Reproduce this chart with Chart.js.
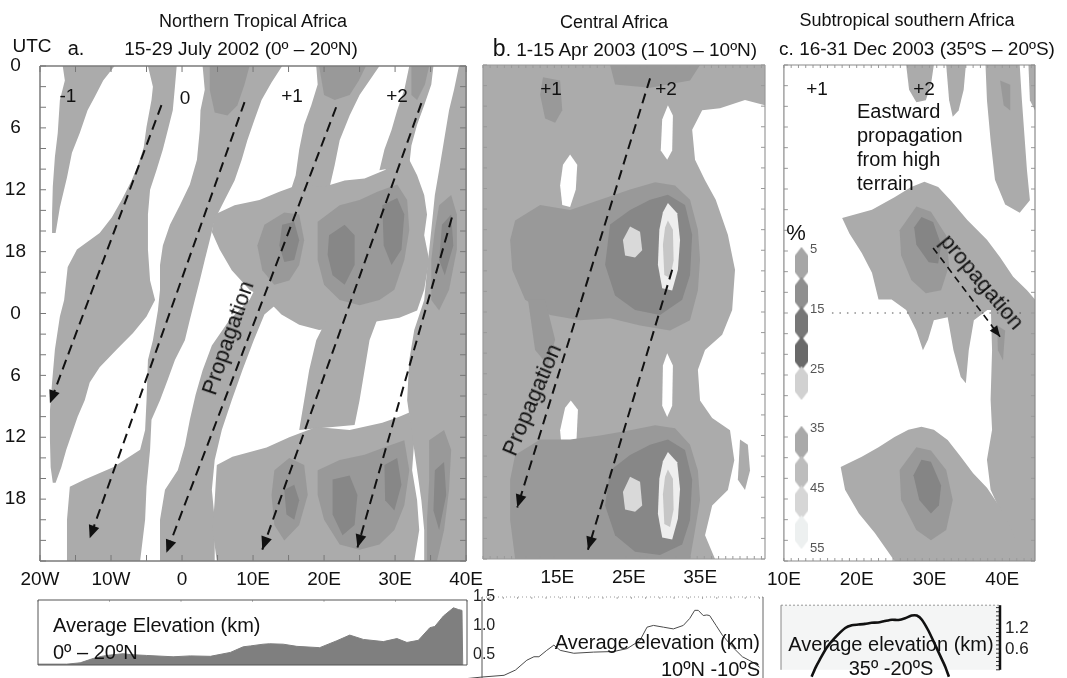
<!DOCTYPE html>
<html>
<head>
<meta charset="utf-8">
<title>Diurnal propagation of convection over Africa</title>
<script src="https://cdn.jsdelivr.net/npm/chart.js@4.4.1/dist/chart.umd.min.js"></script>
<style>
  html, body { margin: 0; padding: 0; background: #fff; }
  body { position: relative; width: 1067px; height: 678px; overflow: hidden;
         font-family: "Liberation Sans", Arial, sans-serif; color: #111; }
  canvas { position: absolute; }
  .t { position: absolute; white-space: nowrap; line-height: 1; }
  .c { transform: translate(-50%, -50%); }
  .l { transform: translate(0, -50%); }
  .r { transform: translate(-100%, -50%); }
</style>
</head>
<body>
<canvas id="chartA" width="490" height="600" style="left:0;top:0"></canvas>
<canvas id="chartB" width="310" height="600" style="left:470px;top:0"></canvas>
<canvas id="chartC" width="307" height="600" style="left:760px;top:0"></canvas>
<canvas id="legendC" width="50" height="360" style="left:781px;top:220px"></canvas>
<canvas id="elevA" width="445" height="90" style="left:30px;top:590px"></canvas>
<canvas id="elevB" width="330" height="100" style="left:450px;top:585px"></canvas>
<canvas id="elevC" width="297" height="95" style="left:770px;top:590px"></canvas>

<!-- titles -->
<div class="t c" style="left:253px;top:21px;font-size:18px">Northern Tropical Africa</div>
<div class="t c" style="left:32px;top:45px;font-size:19px">UTC</div>
<div class="t c" style="left:76px;top:48px;font-size:20px">a.</div>
<div class="t c" style="left:241px;top:48px;font-size:19px">15-29 July 2002 (0º – 20ºN)</div>
<div class="t c" style="left:614px;top:22px;font-size:18px">Central Africa</div>
<div class="t c" style="left:625px;top:48px;font-size:19px"><span style="font-size:23px">b</span>. 1-15 Apr 2003 (10ºS – 10ºN)</div>
<div class="t c" style="left:907px;top:20px;font-size:18px">Subtropical southern Africa</div>
<div class="t c" style="left:917px;top:48px;font-size:19px">c. 16-31 Dec 2003 (35ºS – 20ºS)</div>

<!-- day labels -->
<div class="t c" style="left:68px;top:95px;font-size:19px">-1</div>
<div class="t c" style="left:185px;top:97px;font-size:19px">0</div>
<div class="t c" style="left:292px;top:95px;font-size:19px">+1</div>
<div class="t c" style="left:397px;top:95px;font-size:19px">+2</div>
<div class="t c" style="left:551px;top:88px;font-size:19px">+1</div>
<div class="t c" style="left:666px;top:88px;font-size:19px">+2</div>
<div class="t c" style="left:817px;top:88px;font-size:19px">+1</div>
<div class="t c" style="left:924px;top:88px;font-size:19px">+2</div>

<div class="t c" style="left:228px;top:338px;font-size:22px;transform:translate(-50%,-50%) rotate(-71deg)">Propagation</div>
<div class="t c" style="left:532px;top:400px;font-size:22px;transform:translate(-50%,-50%) rotate(-67deg)">Propagation</div>
<div class="t c" style="left:982px;top:282px;font-size:22px;transform:translate(-50%,-50%) rotate(50deg)">propagation</div>
<div class="t" style="left:857px;top:99px;font-size:20px;line-height:24px">Eastward<br>propagation<br>from high<br>terrain</div>
<div class="t c" style="left:796px;top:233px;font-size:22px">%</div>

<!-- elevation captions -->
<div class="t l" style="left:53px;top:625px;font-size:20px">Average Elevation (km)</div>
<div class="t l" style="left:53px;top:652px;font-size:20px">0º – 20ºN</div>
<div class="t r" style="left:760px;top:642px;font-size:20px">Average elevation (km)</div>
<div class="t r" style="left:760px;top:669px;font-size:20px">10ºN -10ºS</div>
<div class="t c" style="left:891px;top:644px;font-size:20px">Average elevation (km)</div>
<div class="t c" style="left:891px;top:668px;font-size:20px">35º -20ºS</div>

<script>
// ============================================================
// Data : polygons are [longitude, hour] pairs
// ============================================================

// --- panel a : Northern Tropical Africa (20W - 40E) ---
const aLightBands = [
  [[-16.8,0],[-9.5,0],[-11.1,1.4],[-12.3,3.0],[-13.3,4.3],[-14.4,6.5],[-15.5,8.4],[-16.2,10.8],[-17.2,13.7],[-17.8,16.2],[-18.3,16.2],[-18.3,14.3],[-18.2,11.7],[-17.9,8.8],[-17.5,6.5],[-17.2,3.3],[-16.5,1.4]],
  [[-4.8,0],[-0.75,0],[-1.0,2.0],[-1.3,4.3],[-2.0,6.2],[-2.7,8.1],[-3.6,10.1],[-4.5,12.0],[-4.8,14.4],[-4.8,17.8],[-4.5,20.8],[-3.8,22.7],[-5.0,24.3],[-6.9,25.9],[-9.2,27.5],[-11.6,29.2],[-13.0,30.7],[-13.7,32.4],[-14.7,34.0],[-15.5,35.6],[-16.3,37.2],[-17.0,38.9],[-17.8,40.4],[-18.2,40.4],[-18.5,38.9],[-18.6,36.3],[-18.6,33.4],[-18.3,30.7],[-17.9,27.5],[-17.2,24.3],[-16.6,22.7],[-16.1,19.5],[-14.8,17.8],[-11.6,16.2],[-9.9,14.7],[-8.5,13.0],[-7.1,11.1],[-6.2,9.6],[-5.4,7.9],[-5.0,5.9],[-4.3,3.3],[-4.1,2.0]],
  [[2.9,0],[3.2,2.3],[2.6,4.3],[2.5,6.2],[2.1,9.1],[1.1,11.5],[-0.3,13.5],[-1.7,15.4],[-2.7,17.4],[-3.1,19.3],[-3.1,21.7],[-3.4,23.7],[-4.1,26.6],[-4.8,28.5],[-5.0,32.4],[-5.2,35.3],[-5.9,37.2],[-9.7,38.9],[-13.7,40.1],[-15.8,40.8],[-16.2,44.0],[-16.2,48],[-5.9,48],[-5.2,44.0],[-5.0,40.8],[-4.5,37.2],[-4.3,34.3],[-3.1,32.4],[-2.0,30.4],[-1.0,28.5],[0.4,26.6],[1.1,24.6],[1.8,22.7],[2.5,20.8],[3.2,18.8],[3.9,16.9],[4.6,14.9],[6.0,13.0],[7.4,11.1],[8.4,9.1],[9.2,7.2],[10.2,5.2],[11.2,3.3],[12.6,1.6],[14.1,0]],
  [[18.9,0],[19.1,1.8],[18.2,3.8],[17.2,5.7],[16.5,8.1],[16.0,10.6],[15.1,12.5],[13.7,15.9],[11.6,19.8],[9.5,22.7],[6.7,24.6],[4.2,27.1],[2.9,29.5],[1.9,31.9],[1.1,34.3],[0.4,36.8],[-0.6,39.2],[-2.4,41.1],[-3.1,44.0],[-3.1,48],[4.6,48],[4.6,44.0],[4.2,41.1],[4.6,38.2],[5.6,35.3],[7.0,32.4],[8.5,29.5],[10.1,26.6],[11.6,24.1],[14.0,22.7],[16.5,19.8],[20.7,16.9],[21.5,14.9],[20.7,12.0],[21.5,9.6],[22.2,7.2],[23.6,4.8],[25.0,2.8],[26.4,1.4],[27.8,0]],
  [[4.6,14.4],[7.4,13.5],[10.9,13.0],[13.7,12.2],[16.5,11.5],[20.0,11.7],[22.9,11.1],[25.7,10.9],[28.5,10.1],[30.6,9.1],[32.0,9.1],[33.1,10.6],[34.1,12.5],[34.5,14.4],[34.1,16.4],[34.8,18.8],[34.1,21.7],[33.1,23.7],[30.6,24.4],[27.1,24.8],[23.6,25.2],[19.3,25.6],[16.5,25.1],[14.0,24.1],[12.0,22.7],[9.5,21.7],[7.0,19.8],[5.3,17.8],[4.2,16.1]],
  [[20.8,24.0],[27.8,24.0],[26.4,26.6],[25.7,29.5],[25.0,32.4],[24.3,34.8],[16.5,35.3],[17.2,32.4],[17.9,29.5],[18.9,26.6]],
  [[4.9,38.7],[7.1,37.9],[11.9,37.0],[15.1,36.0],[18.9,35.0],[23.6,35.3],[28.2,34.6],[30.6,34.0],[32.0,33.6],[32.7,36.3],[32.4,39.2],[33.1,42.1],[33.4,45.0],[32.7,48],[4.9,48],[4.3,45.0],[4.6,42.1]],
  [[32.0,0],[35.4,0],[35.1,1.8],[34.1,3.8],[33.1,5.7],[32.3,7.7],[32.0,9.6],[27.8,10.1],[28.5,8.1],[29.5,6.2],[30.3,4.3],[31.3,2.3]],
  [[39.0,0],[38.3,2.3],[37.6,4.3],[36.9,7.2],[36.2,10.1],[35.6,12.5],[35.1,15.9],[34.5,19.8],[34.1,22.7],[32.7,25.6],[32.0,28.5],[31.7,32.4],[32.3,35.3],[33.1,39.2],[33.7,42.1],[34.1,45.0],[34.1,48],[40,48],[40,0]]
];
const aMidPatches = [
  [[3.9,0],[9.5,0],[8.8,1.8],[7.8,3.8],[6.4,4.8],[4.6,4.5],[3.9,2.3]],
  [[19.3,0],[25.9,0],[24.9,1.4],[23.6,2.8],[21.5,3.3],[20.0,2.8]],
  [[32.3,0],[34.8,0],[34.2,1.8],[33.1,3.3],[32.3,2.8]],
  [[11.6,15.4],[14.4,14.2],[16.5,14.4],[17.2,16.9],[16.5,19.3],[15.1,20.8],[13.0,21.2],[11.3,19.8],[10.6,17.4]],
  [[19.1,15.1],[22.2,13.5],[25.0,13.0],[27.5,12.2],[30.3,11.5],[31.7,13.0],[32.0,15.9],[31.3,18.8],[29.9,21.7],[27.8,22.7],[25.0,23.2],[22.2,22.7],[20.0,21.2],[19.1,18.8]],
  [[36.2,13.5],[37.9,12.5],[38.7,14.4],[38.7,17.8],[37.6,21.7],[36.2,23.7],[35.1,22.7],[35.1,18.8],[35.6,15.9]],
  [[13.0,39.2],[15.1,38.0],[17.2,38.7],[17.7,41.6],[16.5,44.5],[14.4,46.0],[13.0,44.5],[12.6,41.6]],
  [[19.1,39.2],[22.2,38.2],[25.7,37.7],[29.2,36.8],[31.3,36.3],[32.0,39.2],[31.3,42.6],[29.9,45.0],[27.8,46.4],[25.0,46.9],[22.2,46.4],[20.0,44.0],[19.1,41.6]],
  [[34.8,36.3],[36.9,35.3],[37.9,37.2],[37.6,41.1],[36.9,45.0],[35.9,48],[34.5,48],[34.5,44.0],[34.8,40.1]]
];
const aDarkCores = [
  [[14.1,15.4],[15.8,15.1],[16.5,16.9],[15.8,18.8],[14.4,19.0],[13.7,17.4]],
  [[20.7,16.4],[22.9,15.4],[24.3,16.4],[24.3,19.3],[22.9,21.2],[21.2,20.3],[20.5,18.3]],
  [[28.2,13.5],[30.3,12.8],[31.3,14.4],[30.9,17.8],[29.5,19.3],[28.4,17.4]],
  [[36.6,15.4],[37.9,14.4],[38.2,17.4],[37.0,20.3],[36.2,18.8]],
  [[14.4,41.1],[15.8,40.6],[16.5,42.1],[15.8,44.0],[14.7,43.5]],
  [[21.2,40.1],[23.6,39.7],[24.7,41.6],[24.3,44.5],[22.6,45.5],[21.2,43.5]],
  [[28.5,38.7],[30.3,38.0],[30.9,40.6],[29.9,43.1],[28.6,42.1]],
  [[35.6,39.2],[36.9,38.4],[37.2,41.6],[36.2,45.0],[35.4,43.1]]
];
const aArrows = [
  [[-2.9,3.8],[-18.6,32.7]],
  [[8.8,3.5],[-13.0,45.8]],
  [[21.7,4.0],[-2.2,47.2]],
  [[33.7,3.6],[11.3,46.9]],
  [[38.0,14.7],[24.7,46.7]]
];

// --- panel b : Central Africa (5E - 44.5E) ---
const bBase = [[[5,0],[44.5,0],[44.5,48],[5,48]]];
const bWhiteAreas = [
  [[38.2,4.2],[41.7,3.4],[44.5,3.9],[44.5,48],[37.5,48],[36.1,45.7],[37.1,42.8],[39.3,41.3],[40.2,38.4],[39.6,35.5],[37.1,34.3],[35.4,32.6],[35.1,29.6],[36.1,27.7],[38.5,26.2],[39.9,23.8],[40.3,19.9],[39.3,16.5],[37.6,13.1],[36.1,11.2],[34.7,9.2],[34.3,6.3],[35.7,4.4]],
  [[17.2,8.7],[18.2,9.7],[18.0,12.1],[17.2,13.8],[16.1,13.6],[15.8,11.7],[16.2,9.7]],
  [[30.9,3.9],[31.6,4.9],[31.5,8.3],[30.8,9.2],[29.9,8.3],[30.1,5.3]],
  [[17.3,32.6],[18.3,33.5],[18.1,36.4],[17.2,38.4],[16.1,37.9],[15.8,35.5],[16.5,33.3]],
  [[30.8,28.0],[31.6,29.2],[31.5,33.1],[30.8,34.2],[30.1,33.1],[30.2,29.2]]
];
const bGrayBlobs = [
  [[41.0,36.4],[42.1,36.9],[42.4,39.4],[41.7,41.3],[40.7,40.3]]
];
const bMidBands = [
  [[9.5,15.1],[13.0,13.6],[17.2,14.1],[21.4,13.1],[25.6,12.1],[29.1,11.4],[31.9,11.7],[34.0,13.1],[35.1,16.0],[35.4,18.9],[35.1,21.9],[34.0,24.8],[31.2,25.8],[27.0,25.3],[22.8,24.6],[18.6,24.8],[14.4,24.3],[10.9,22.8],[9.1,19.9],[8.8,17.0]],
  [[9.5,37.9],[13.0,36.4],[17.2,36.4],[21.4,36.0],[25.6,35.5],[29.1,35.0],[31.9,35.3],[34.0,36.9],[35.1,39.4],[35.4,42.3],[34.7,45.2],[34.0,48],[9.5,48],[8.8,44.2],[8.8,40.3]],
  [[13.4,1.2],[15.8,1.5],[16.1,4.4],[15.1,5.6],[13.7,5.2],[13.0,2.9]],
  [[22.8,0],[35.4,0],[34.0,1.5],[28.4,2.2],[23.5,1.9]],
  [[11.3,22.8],[13.7,22.8],[15.1,26.7],[14.1,29.2],[12.3,27.7]]
];
const bDarkBands = [
  [[22.8,15.5],[25.6,14.1],[28.4,13.1],[30.9,12.6],[33.3,13.6],[34.3,16.5],[34.0,20.4],[32.9,22.8],[29.8,24.3],[26.3,23.8],[23.5,22.4],[22.1,19.4]],
  [[22.8,39.4],[25.6,37.9],[28.4,36.9],[30.9,36.4],[33.3,37.4],[34.3,40.3],[34.0,44.2],[32.9,46.6],[29.8,47.6],[26.3,47.3],[23.5,45.7],[22.1,42.8]]
];
const bPaleBlobs = [
  [[25.6,15.7],[27.0,16.2],[27.3,18.0],[26.3,18.7],[24.9,18.5],[24.6,17.0]],
  [[25.6,40.0],[27.0,40.5],[27.3,42.8],[26.3,43.4],[24.9,43.2],[24.6,41.5]]
];
const bRingOuter = [
  [[30.9,13.4],[32.2,14.4],[32.6,17.0],[32.3,19.9],[31.5,21.9],[30.1,21.7],[29.5,19.4],[29.7,16.0],[30.2,14.3]],
  [[30.9,37.6],[32.2,38.6],[32.6,41.2],[32.3,44.1],[31.5,46.1],[30.1,45.9],[29.5,43.6],[29.7,40.2],[30.2,38.5]]
];
const bRingInner = [
  [[30.9,15.1],[31.6,16.0],[31.7,19.0],[31.2,20.7],[30.4,20.4],[30.2,17.5],[30.5,15.8]],
  [[30.9,39.3],[31.6,40.2],[31.7,43.2],[31.2,44.9],[30.4,44.6],[30.2,41.7],[30.5,40.0]]
];
const bArrows = [
  [[28.4,1.3],[9.8,43.0]],
  [[31.5,19.9],[19.7,47.1]]
];

// --- panel c : Subtropical southern Africa (10E - 44.5E) ---
const cLightAreas = [
  [[26.8,0],[30.6,0],[30.2,1.9],[29.5,3.4],[28.2,3.6],[27.2,2.4]],
  [[32.3,0],[35.0,0],[34.7,2.4],[34.0,4.4],[33.2,5.0],[32.7,3.4]],
  [[37.7,0],[42.4,0],[42.7,3.4],[43.1,7.3],[43.4,10.2],[43.8,13.1],[42.4,14.3],[40.4,13.5],[39.0,11.1],[38.4,7.3],[37.9,3.4]],
  [[43.6,0],[44.5,0],[44.5,4.4],[43.8,3.4]],
  [[18.0,14.8],[22.1,14.0],[25.2,12.8],[27.5,11.8],[29.3,11.3],[31.2,11.8],[32.9,13.1],[35.2,15.0],[37.9,16.9],[39.7,18.6],[41.5,20.5],[43.4,21.8],[44.5,22.7],[44.5,23.7],[37.95,23.7],[36.1,24.7],[35.4,27.6],[35.0,30.8],[34.3,30.2],[33.3,27.6],[32.5,24.4],[30.6,24.7],[29.8,26.6],[29.1,27.6],[28.2,25.7],[26.8,23.7],[24.8,22.7],[23.0,22.7],[22.1,20.1],[20.7,18.2],[19.0,16.3]],
  [[38.4,22.7],[44.5,22.7],[44.5,48],[42.7,48],[41.3,46.0],[39.7,43.1],[38.4,41.1],[37.9,38.2],[38.6,35.3],[38.4,32.4],[38.6,27.6]],
  [[17.8,38.9],[20.7,37.9],[23.0,37.0],[25.2,36.0],[27.1,35.3],[28.9,35.0],[30.6,35.3],[32.5,36.3],[34.3,37.9],[36.0,39.5],[37.9,40.9],[39.7,42.8],[41.5,45.3],[42.8,48],[25.2,48],[22.5,45.3],[20.3,43.4],[18.4,41.1]]
];
const cMidAreas = [
  [[28.2,13.7],[30.2,14.2],[32.3,16.5],[32.7,19.4],[31.6,21.8],[29.5,22.1],[27.5,20.8],[26.1,18.4],[25.9,16.0]],
  [[28.2,37.0],[30.2,37.3],[32.3,39.2],[33.2,42.1],[32.3,45.0],[30.2,46.0],[28.2,45.0],[26.1,42.1],[25.9,39.2]],
  [[39.7,1.5],[41.1,1.9],[41.1,4.4],[40.2,3.9]],
  [[39.3,25.2],[40.4,25.7],[40.1,28.6],[39.4,27.6]]
];
const cDarkCores = [
  [[28.9,14.7],[30.5,15.2],[31.6,17.4],[31.2,19.2],[29.9,19.1],[28.2,17.4],[27.9,15.7]],
  [[28.9,38.2],[30.2,38.4],[31.6,40.7],[31.3,42.6],[30.2,43.4],[28.6,42.1],[27.8,39.7]]
];
const cArrows = [[[30.5,17.7],[39.7,26.3]]];
const cDayBoundary = [[16.6,24],[43.4,24]];

// --- colour key (per cent) in panel c ---
const legendLevels = [5, 10, 15, 20, 25, 35, 40, 45, 50];
const legendColors = ['#a6a6a6', '#8f8f8f', '#777777', '#696969', '#d1d1d1', '#a9a9a9', '#bdbdbd', '#d6d6d6', '#edf0f0'];
const legendTicks = [5, 15, 25, 35, 45, 55];

// --- average elevation profiles (km) ---
const elevALon = [-20, -16.0, -14.1, -12.3, -11.1, -9.9, -8.1, -7.1, -4.8, -1.1, 1.3, 4.1, 6.9, 8.7, 9.7, 11.5, 12.4, 14.3, 16.2, 19.4, 21.8, 23.6, 25.5, 28.3, 30.2, 31.6, 33.2, 34.8, 35.5, 36.7, 38.1, 38.8, 39.3, 39.4];
const elevAKm  = [0.02, 0.02, 0.05, 0.15, 0.20, 0.23, 0.26, 0.24, 0.22, 0.19, 0.21, 0.20, 0.29, 0.42, 0.44, 0.48, 0.49, 0.48, 0.43, 0.40, 0.56, 0.69, 0.59, 0.54, 0.61, 0.52, 0.57, 0.86, 0.89, 1.13, 1.32, 1.28, 1.26, 0];

const elevBLon = [1.8, 5.0, 8.1, 9.7, 11.3, 12.3, 13.0, 14.1, 15.1, 16.0, 17.9, 20.7, 23.5, 25.4, 27.2, 28.2, 29.1, 30.5, 31.9, 33.3, 34.2, 34.9, 35.4, 36.1, 36.6, 37.0, 37.9, 38.8, 40.2, 41.6, 43.0, 44.0];
const elevBKm  = [0.08, 0.12, 0.15, 0.24, 0.41, 0.47, 0.47, 0.58, 0.67, 0.58, 0.53, 0.55, 0.56, 0.61, 0.75, 0.98, 1.01, 0.98, 0.95, 1.01, 1.13, 1.27, 1.27, 1.18, 1.19, 1.18, 1.01, 0.84, 0.64, 0.47, 0.38, 0.29];

const elevCLon = [14.2, 14.7, 15.3, 16.3, 17.4, 18.8, 19.7, 20.6, 21.5, 22.4, 23.3, 24.2, 25.2, 26.1, 27.0, 27.9, 28.6, 29.3, 30.2, 31.1, 31.8, 32.5, 33.0];
const elevCKm  = [-0.2, 0.05, 0.29, 0.65, 0.93, 1.21, 1.29, 1.31, 1.33, 1.36, 1.37, 1.41, 1.45, 1.44, 1.49, 1.57, 1.57, 1.45, 1.13, 0.73, 0.41, 0.09, -0.2];
const elevCTicks = [0.6, 1.2];

// ============================================================
// Helpers / plugins
// ============================================================

Chart.defaults.font.family = '"Liberation Sans", Arial, sans-serif';
Chart.defaults.color = '#111';

const LIGHT = '#ababab', MID = '#999999', DARK = '#878787';

function lonLabel(v) {
    if (v < 0) return (-v) + 'W';
    if (v === 0) return '0';
    return v + 'E';
}

// filled contour areas, drawn in data space through the chart scales
function fieldLayers(layers) {
    return {
        id: 'fieldLayers',
        beforeDatasetsDraw(chart) {
            const { ctx, chartArea: a, scales: { x, y } } = chart;
            ctx.save();
            ctx.beginPath();
            ctx.rect(a.left, a.top, a.right - a.left, a.bottom - a.top);
            ctx.clip();
            for (const layer of layers) {
                ctx.fillStyle = layer.color;
                for (const poly of layer.polys) {
                    ctx.beginPath();
                    poly.forEach(([lon, h], i) => {
                        const px = x.getPixelForValue(lon), py = y.getPixelForValue(h);
                        if (i) ctx.lineTo(px, py); else ctx.moveTo(px, py);
                    });
                    ctx.closePath();
                    ctx.fill();
                }
            }
            ctx.restore();
        }
    };
}

// plot frame + inward tick marks
function frame(cfg) {
    return {
        id: 'frame',
        beforeDraw(chart) {
            if (!cfg.bg) return;
            const { ctx, chartArea: a } = chart;
            ctx.save();
            ctx.fillStyle = cfg.bg;
            ctx.fillRect(a.left, a.top, a.right - a.left, a.bottom - a.top);
            ctx.restore();
        },
        afterDatasetsDraw(chart) {
            const { ctx, chartArea: a, scales: { x, y } } = chart;
            ctx.save();
            for (const t of cfg.ticks || []) {
                const sc = (t.side === 'top' || t.side === 'bottom') ? x : y;
                const lo = Math.min(sc.min, sc.max), hi = Math.max(sc.min, sc.max);
                ctx.strokeStyle = t.color;
                ctx.lineWidth = t.width || 1;
                ctx.beginPath();
                for (let i = Math.ceil(lo / t.step - 1e-6); i * t.step <= hi + 1e-6; i++) {
                    const p = sc.getPixelForValue(i * t.step);
                    if (t.side === 'top') { ctx.moveTo(p, a.top); ctx.lineTo(p, a.top + t.len); }
                    if (t.side === 'bottom') { ctx.moveTo(p, a.bottom); ctx.lineTo(p, a.bottom - t.len); }
                    if (t.side === 'left') { ctx.moveTo(a.left, p); ctx.lineTo(a.left + t.len, p); }
                    if (t.side === 'right') { ctx.moveTo(a.right, p); ctx.lineTo(a.right - t.len, p); }
                }
                ctx.stroke();
            }
            for (const [side, s] of Object.entries(cfg.sides || {})) {
                ctx.strokeStyle = s.color;
                ctx.lineWidth = s.width;
                ctx.setLineDash(s.dash || []);
                ctx.beginPath();
                if (side === 'top') { ctx.moveTo(a.left, a.top); ctx.lineTo(a.right, a.top); }
                if (side === 'bottom') { ctx.moveTo(a.left, a.bottom); ctx.lineTo(a.right, a.bottom); }
                if (side === 'left') { ctx.moveTo(a.left, a.top); ctx.lineTo(a.left, a.bottom); }
                if (side === 'right') { ctx.moveTo(a.right, a.top); ctx.lineTo(a.right, a.bottom); }
                ctx.stroke();
            }
            ctx.restore();
        }
    };
}

// arrow heads at the end of flagged datasets
const arrowHeads = {
    id: 'arrowHeads',
    afterDatasetsDraw(chart) {
        const ctx = chart.ctx;
        chart.data.datasets.forEach((ds, i) => {
            if (!ds.arrow) return;
            const pts = chart.getDatasetMeta(i).data;
            const tip = pts[pts.length - 1], prev = pts[pts.length - 2];
            const ang = Math.atan2(tip.y - prev.y, tip.x - prev.x);
            const L = ds.arrowSize, W = ds.arrowSize * 0.42;
            ctx.save();
            ctx.translate(tip.x, tip.y);
            ctx.rotate(ang);
            ctx.fillStyle = '#111';
            ctx.beginPath();
            ctx.moveTo(0, 0);
            ctx.lineTo(-L, -W);
            ctx.lineTo(-L, W);
            ctx.closePath();
            ctx.fill();
            ctx.restore();
        });
    }
};

function dashedArrows(list, width, dash, size) {
    return list.map(pts => ({
        data: pts.map(([x, y]) => ({ x, y })),
        showLine: true, borderColor: '#111', borderWidth: width, borderDash: dash,
        pointRadius: 0, arrow: true, arrowSize: size
    }));
}

function panelChart(id, cfg) {
    return new Chart(document.getElementById(id), {
        type: 'scatter',
        data: { datasets: cfg.datasets },
        options: {
            responsive: false, animation: false, events: [],
            layout: { padding: cfg.padding },
            plugins: { legend: { display: false }, tooltip: { enabled: false } },
            scales: {
                x: {
                    type: 'linear', min: cfg.lon[0], max: cfg.lon[1],
                    grid: { display: false, drawTicks: false }, border: { display: false },
                    ticks: { font: { size: 19 }, color: '#111', padding: 7, maxRotation: 0, autoSkip: false,
                             labelOffset: cfg.labelOffset || 0, callback: lonLabel },
                    afterBuildTicks: s => { s.ticks = cfg.lonTicks.map(v => ({ value: v })); },
                    afterFit: s => { s.height = 30; }
                },
                y: cfg.yAxis
            }
        },
        plugins: [fieldLayers(cfg.layers), frame(cfg.frame), arrowHeads]
    });
}

// ============================================================
// Panel a
// ============================================================

panelChart('chartA', {
    lon: [-20, 40],
    lonTicks: [-20, -10, 0, 10, 20, 30, 40],
    padding: { left: 0, top: 66, right: 23, bottom: 9 },
    yAxis: {
        type: 'linear', min: 0, max: 48, reverse: true,
        grid: { display: false, drawTicks: false }, border: { display: false },
        ticks: { stepSize: 6, font: { size: 19 }, color: '#111', crossAlign: 'center', padding: 14,
                 callback: v => (v === 48 ? '' : v % 24) },
        afterFit: s => { s.width = 40; }
    },
    layers: [
        { color: LIGHT, polys: aLightBands },
        { color: MID, polys: aMidPatches },
        { color: DARK, polys: aDarkCores }
    ],
    frame: {
        sides: { top: { color: '#7a7a7a', width: 1.5 }, bottom: { color: '#7a7a7a', width: 1.5 },
                 left: { color: '#7a7a7a', width: 1.5 }, right: { color: '#7a7a7a', width: 1.5 } },
        ticks: [
            { side: 'top', step: 5, len: 6, color: '#777' }, { side: 'bottom', step: 5, len: 6, color: '#777' },
            { side: 'left', step: 2, len: 6, color: '#777' }, { side: 'right', step: 2, len: 6, color: '#777' }
        ]
    },
    datasets: dashedArrows(aArrows, 2, [10, 6], 13)
});

// ============================================================
// Panel b
// ============================================================

panelChart('chartB', {
    lon: [5, 44.5],
    lonTicks: [15, 25, 35],
    labelOffset: 3,
    padding: { left: 13, top: 65, right: 15, bottom: 11 },
    yAxis: { type: 'linear', min: 0, max: 48, reverse: true, display: false },
    layers: [
        { color: LIGHT, polys: bBase },
        { color: '#ffffff', polys: bWhiteAreas },
        { color: LIGHT, polys: bGrayBlobs },
        { color: MID, polys: bMidBands },
        { color: DARK, polys: bDarkBands },
        { color: '#d9d9d9', polys: bPaleBlobs },
        { color: '#eeeeee', polys: bRingOuter },
        { color: '#c6c6c6', polys: bRingInner }
    ],
    frame: {
        sides: { top: { color: '#9a9a9a', width: 1.2 }, bottom: { color: '#9a9a9a', width: 1.2 },
                 left: { color: '#9a9a9a', width: 1.2 }, right: { color: '#9a9a9a', width: 1.2 } },
        ticks: [
            { side: 'top', step: 1, len: 3, color: '#999' }, { side: 'bottom', step: 1, len: 3, color: '#999' },
            { side: 'left', step: 2, len: 4, color: '#999' }, { side: 'right', step: 2, len: 4, color: '#999' }
        ]
    },
    datasets: dashedArrows(bArrows, 2, [10, 6], 13)
});

// ============================================================
// Panel c
// ============================================================

panelChart('chartC', {
    lon: [10, 44.5],
    lonTicks: [10, 20, 30, 40],
    padding: { left: 21, top: 65, right: 32, bottom: 9 },
    yAxis: { type: 'linear', min: 0, max: 48, reverse: true, display: false },
    layers: [
        { color: LIGHT, polys: cLightAreas },
        { color: MID, polys: cMidAreas },
        { color: '#858585', polys: cDarkCores }
    ],
    frame: {
        sides: { top: { color: '#8a8a8a', width: 1.2 }, bottom: { color: '#8a8a8a', width: 1.2 },
                 left: { color: '#8a8a8a', width: 1.2 }, right: { color: '#8a8a8a', width: 1.2 } },
        ticks: [
            { side: 'top', step: 1, len: 3, color: '#999' }, { side: 'bottom', step: 1, len: 3, color: '#999' },
            { side: 'left', step: 2, len: 4, color: '#999' }, { side: 'right', step: 2, len: 4, color: '#999' }
        ]
    },
    datasets: [
        ...dashedArrows(cArrows, 1.6, [7, 5], 11),
        { data: cDayBoundary.map(([x, y]) => ({ x, y })), showLine: true, borderColor: '#555',
          borderWidth: 1.2, borderDash: [1.5, 6], pointRadius: 0 }
    ]
});

// colour key diamonds
function diamond(color) {
    const c = document.createElement('canvas');
    c.width = 26; c.height = 34;
    const g = c.getContext('2d');
    g.fillStyle = color;
    g.beginPath();
    g.moveTo(13, 0); g.lineTo(26, 17); g.lineTo(13, 34); g.lineTo(0, 17);
    g.closePath();
    g.fill();
    return c;
}

new Chart(document.getElementById('legendC'), {
    type: 'scatter',
    data: { datasets: [{ data: legendLevels.map(v => ({ x: 0.5, y: v })), pointStyle: legendColors.map(diamond), pointRadius: 13 }] },
    options: {
        responsive: false, animation: false, events: [],
        layout: { padding: { left: 3, top: 12, right: 0, bottom: 18 } },
        plugins: { legend: { display: false }, tooltip: { enabled: false } },
        scales: {
            x: { type: 'linear', min: 0, max: 1, display: false },
            y: {
                type: 'linear', min: 0, max: 55, reverse: true, position: 'right',
                grid: { display: false, drawTicks: false }, border: { display: false },
                ticks: { font: { size: 13 }, color: '#555', padding: 2, labelOffset: -14, autoSkip: false },
                afterBuildTicks: s => { s.ticks = legendTicks.map(v => ({ value: v })); },
                afterFit: s => { s.width = 23; }
            }
        }
    }
});

// ============================================================
// Elevation profiles
// ============================================================

new Chart(document.getElementById('elevA'), {
    type: 'scatter',
    data: { datasets: [{ data: elevALon.map((x, i) => ({ x, y: elevAKm[i] })), showLine: true, fill: 'origin',
                         backgroundColor: '#7f7f7f', borderColor: '#7f7f7f', borderWidth: 1, pointRadius: 0 }] },
    options: {
        responsive: false, animation: false, events: [],
        layout: { padding: { left: 8, top: 10, right: 8, bottom: 15 } },
        plugins: { legend: { display: false }, tooltip: { enabled: false } },
        scales: {
            x: { type: 'linear', min: -20, max: 40, display: false },
            y: { type: 'linear', min: 0, max: 1.5, display: false }
        }
    },
    plugins: [frame({
        sides: { top: { color: '#555', width: 1 }, bottom: { color: '#555', width: 1 },
                 left: { color: '#555', width: 1 }, right: { color: '#555', width: 1 } },
        ticks: [{ side: 'top', step: 10, len: 2, color: '#bbb' }]
    })]
});

new Chart(document.getElementById('elevB'), {
    type: 'scatter',
    data: { datasets: [{ data: elevBLon.map((x, i) => ({ x, y: elevBKm[i] })), showLine: true, clip: false,
                         borderColor: '#4a4a4a', borderWidth: 1, pointRadius: 0 }] },
    options: {
        responsive: false, animation: false, events: [],
        layout: { padding: { left: 0, top: 12, right: 17, bottom: 1 } },
        plugins: { legend: { display: false }, tooltip: { enabled: false } },
        scales: {
            x: { type: 'linear', min: 5, max: 44.5, display: false },
            y: {
                type: 'linear', min: 0, max: 1.5, position: 'left',
                grid: { display: false, drawTicks: false }, border: { display: false },
                ticks: { stepSize: 0.5, mirror: true, padding: -9, font: { size: 16 }, color: '#222',
                         callback: v => (v === 0 ? '' : v.toFixed(1)) },
                afterFit: s => { s.width = 32; }
            }
        }
    },
    plugins: [frame({
        sides: { top: { color: '#999', width: 1, dash: [1, 3] }, left: { color: '#555', width: 1 },
                 right: { color: '#666', width: 1 } },
        ticks: [{ side: 'top', step: 2, len: 2, color: '#aaa' }]
    })]
});

new Chart(document.getElementById('elevC'), {
    type: 'scatter',
    data: { datasets: [{ data: elevCLon.map((x, i) => ({ x, y: elevCKm[i] })), showLine: true, clip: false,
                         borderColor: '#111', borderWidth: 2.6, pointRadius: 0, tension: 0.2 }] },
    options: {
        responsive: false, animation: false, events: [],
        layout: { padding: { left: 11, top: 11, right: 27, bottom: 6 } },
        plugins: { legend: { display: false }, tooltip: { enabled: false } },
        scales: {
            x: { type: 'linear', min: 10, max: 40, display: false },
            y: {
                type: 'linear', min: 0, max: 1.87, position: 'right',
                grid: { display: false, drawTicks: false }, border: { display: false },
                ticks: { padding: 5, font: { size: 17 }, color: '#222', autoSkip: false,
                         callback: v => v.toFixed(1) },
                afterBuildTicks: s => { s.ticks = elevCTicks.map(v => ({ value: v })); },
                afterFit: s => { s.width = 40; }
            }
        }
    },
    plugins: [frame({
        bg: '#f4f5f5',
        sides: { top: { color: '#999', width: 1, dash: [2, 2] }, left: { color: '#888', width: 1 },
                 right: { color: '#111', width: 2.5 } },
        ticks: [{ side: 'right', step: 0.12, len: 4, color: '#333' }]
    })]
});
</script>
</body>
</html>
